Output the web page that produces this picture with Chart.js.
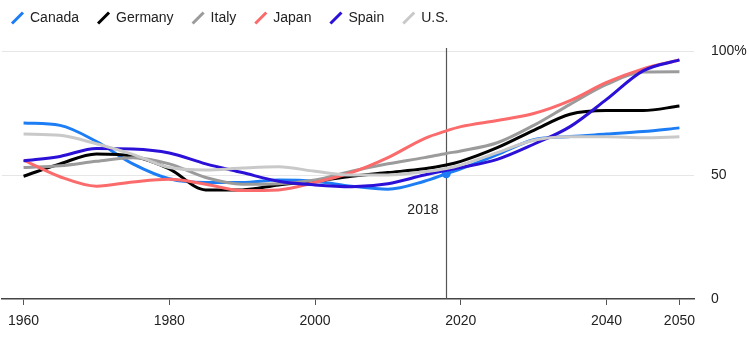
<!DOCTYPE html>
<html>
<head>
<meta charset="utf-8">
<script src="https://cdn.jsdelivr.net/npm/chart.js@4.4.1/dist/chart.umd.min.js"></script>
<style>
  html, body { margin: 0; padding: 0; background: #fff; }
  #wrap { width: 749px; height: 340px; position: relative; }
</style>
</head>
<body>
<div id="wrap"><canvas id="shareChart"></canvas></div>
<script>
// Years sampled for every country (2018 kept so the marker sits on a real point)
const years = [1960, 1965, 1970, 1975, 1980, 1985, 1990, 1995, 2000, 2005, 2010, 2015, 2018, 2020, 2025, 2030, 2035, 2040, 2045, 2050];

const canada  = [71, 70, 63.5, 54.5, 48.5, 47, 47, 48, 47.5, 45.5, 44.3, 47.5, 50.5, 52.5, 58.2, 64.2, 65.5, 66.5, 67.5, 69];
const germany = [49.5, 54.5, 58.5, 57.6, 52.5, 44, 44, 46, 47.5, 49.5, 51, 52.5, 54, 55.5, 61, 68, 74.5, 76, 76, 77.8];
const italy   = [53, 53.7, 55.5, 57, 54.5, 49, 46.3, 46.5, 48, 51.5, 54.5, 57, 58.7, 59.7, 63, 70, 78.5, 86.5, 91.5, 91.6];
const japan   = [56, 49.3, 45.5, 47.2, 48.3, 46.3, 43.7, 44, 47, 51, 57, 64.7, 67.8, 69.5, 72, 74.8, 80, 87.3, 92.8, 96.4];
const spain   = [55.7, 57.5, 60.7, 60.5, 58.9, 54.5, 51, 47.5, 46, 45.3, 46.5, 50, 51.9, 53, 56.3, 62.4, 69.5, 80.5, 92, 96.4];
const us      = [66.5, 66, 62.6, 58.3, 53, 52, 52.8, 53.3, 51.5, 50, 50, 51.3, 52.6, 54, 59, 64, 65.4, 65.4, 65, 65.4];

const seriesNames = ['Canada', 'Germany', 'Italy', 'Japan', 'Spain', 'U.S.'];
const seriesValues = [canada, germany, italy, japan, spain, us];
const seriesColors = ['#1c7df5', '#000000', '#9b9b9b', '#fb6b6b', '#2b10d8', '#c9c9c9'];

const xTickYears = [1960, 1980, 2000, 2020, 2040, 2050];
const yTickValues = [0, 50, 100];
const yTickLabels = ['0', '50', '100%'];

const markerYear = 2018;
const markerText = '2018';

const FONT = "'Liberation Sans', Arial, sans-serif";
Chart.defaults.font.family = FONT;
Chart.defaults.color = '#222';

// Vertical rule at the marker year with its label to the left
const markerLine = {
    id: 'markerLine',
    beforeDatasetsDraw(chart) {
        const { ctx, chartArea, scales } = chart;
        const x = Math.round(scales.x.getPixelForValue(markerYear)) + 0.5;
        ctx.save();
        ctx.strokeStyle = '#555';
        ctx.lineWidth = 1.2;
        ctx.beginPath();
        ctx.moveTo(x, chartArea.top - 3);
        ctx.lineTo(x, chartArea.bottom);
        ctx.stroke();
        ctx.fillStyle = '#222';
        ctx.font = '14px ' + FONT;
        ctx.textAlign = 'right';
        ctx.textBaseline = 'middle';
        ctx.fillText(markerText, x - 8, scales.y.getPixelForValue(36));
        ctx.restore();
    }
};

// Pull the legend row up to the top-left corner
const legendNudge = {
    id: 'legendNudge',
    afterLayout(chart) {
        chart.legend.left -= 7;
        chart.legend.top -= 16;
    }
};

const datasets = seriesNames.map((name, i) => ({
    label: name,
    data: years.map((yr, j) => ({ x: yr, y: seriesValues[i][j] })),
    borderColor: seriesColors[i],
    backgroundColor: seriesColors[i],
    borderWidth: 3,
    borderJoinStyle: 'round',
    cubicInterpolationMode: 'monotone',
    pointRadius: ctx => (i === 0 && years[ctx.dataIndex] === markerYear) ? 4.5 : 0,
    pointBorderWidth: 0,
    order: seriesNames.length - i
}));

const ctx = document.getElementById('shareChart').getContext('2d');
const shareChart = new Chart(ctx, {
    type: 'line',
    data: { datasets: datasets },
    options: {
        responsive: true,
        maintainAspectRatio: false,
        animation: false,
        events: [],
        layout: { padding: { top: 8, left: 0, right: 0, bottom: 0 } },
        plugins: {
            tooltip: { enabled: false },
            legend: {
                align: 'start',
                labels: {
                    usePointStyle: true,
                    boxWidth: 11,
                    boxHeight: 11,
                    padding: 19,
                    color: '#222',
                    font: { size: 14 },
                    sort: (a, b) => a.datasetIndex - b.datasetIndex,
                    generateLabels: chart => chart.data.datasets.map((ds, i) => ({
                        text: ds.label,
                        datasetIndex: i,
                        pointStyle: 'line',
                        rotation: -45,
                        strokeStyle: ds.borderColor,
                        fillStyle: ds.borderColor,
                        lineWidth: 3,
                        fontColor: '#222',
                        hidden: false
                    }))
                }
            }
        },
        scales: {
            x: {
                type: 'linear',
                min: 1957,
                max: 2052,
                afterBuildTicks: scale => { scale.ticks = xTickYears.map(v => ({ value: v })); },
                afterFit: scale => { scale.height = 41; },
                grid: { drawOnChartArea: false, drawTicks: true, tickLength: 6, color: '#555', lineWidth: 1 },
                border: { display: true, color: '#444', width: 1.5 },
                ticks: {
                    padding: 8,
                    color: '#222',
                    font: { size: 14 },
                    maxRotation: 0,
                    autoSkip: false,
                    callback: value => String(value)
                }
            },
            y: {
                position: 'right',
                min: 0,
                max: 100,
                afterBuildTicks: scale => { scale.ticks = yTickValues.map(v => ({ value: v })); },
                afterFit: scale => { scale.width = 55; },
                grid: {
                    drawTicks: false,
                    lineWidth: 1,
                    color: c => (c.tick && c.tick.value === 0) ? 'rgba(0,0,0,0)' : '#e6e6e6'
                },
                border: { display: false },
                ticks: {
                    padding: 17,
                    color: '#222',
                    font: { size: 14 },
                    callback: (value, index) => yTickLabels[index]
                }
            }
        }
    },
    plugins: [markerLine, legendNudge]
});
</script>
</body>
</html>
